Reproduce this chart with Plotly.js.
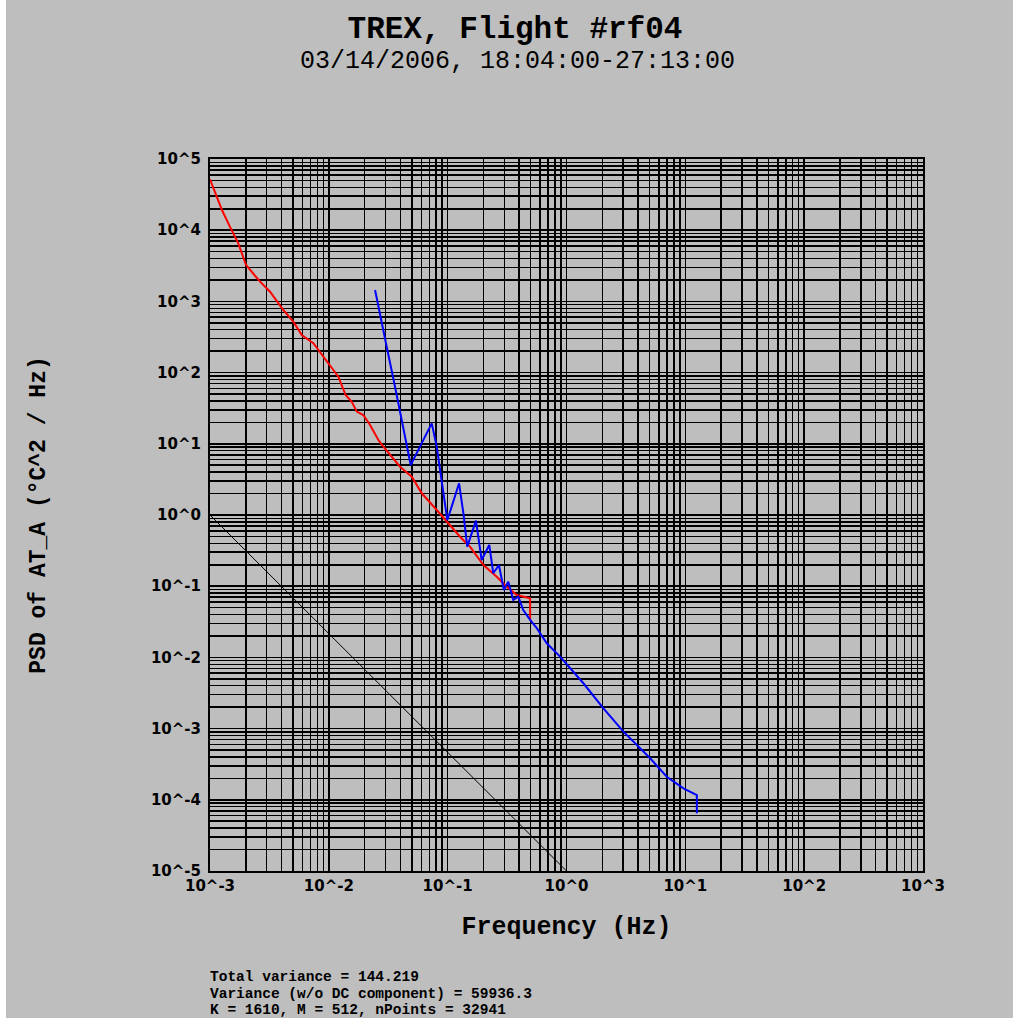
<!DOCTYPE html>
<html>
<head>
<meta charset="utf-8">
<script src="https://cdn.plot.ly/plotly-3.0.1.min.js"></script>
<style>
html,body{margin:0;padding:0;background:#ffffff;}
#plot{position:absolute;left:6px;top:0;width:1007px;height:1018px;}
</style>
</head>
<body>
<div id="plot"></div>
<script>
// ---- data ----
const redFreq = [0.001, 0.00126, 0.00147, 0.00173, 0.00201, 0.00264, 0.00320, 0.00414, 0.00502, 0.00592,
  0.00741, 0.00817, 0.01023, 0.01202, 0.01384, 0.01560, 0.01718, 0.01950, 0.02223, 0.02612,
  0.02877, 0.03972, 0.04989, 0.06053, 0.08091, 0.09817, 0.1271, 0.1542, 0.2000, 0.2588,
  0.3141, 0.3819, 0.4943, 0.4943];
const redPSD = [51880, 19230, 11220, 6546, 3243, 1892, 1368, 756.8, 518.8, 337.3,
  258.2, 207.5, 127.9, 87.70, 48.42, 38.99, 28.31, 25.35, 18.37, 11.30,
  9.12, 4.764, 3.451, 2.018, 1.175, 0.805, 0.4955, 0.3589, 0.1986, 0.1358,
  0.0984, 0.0752, 0.0676, 0.0337];

const blueFreq = [0.02449, 0.02698, 0.03069, 0.03606, 0.04102, 0.04519, 0.04887, 0.05848, 0.07345, 0.08091,
  0.08913, 0.09931, 0.1081, 0.1247, 0.1355, 0.1462, 0.1730, 0.1932, 0.2239, 0.2421,
  0.2698, 0.2972, 0.3236, 0.3565, 0.3926, 0.4325, 0.4943, 0.5623, 0.6823, 0.8831,
  1.387, 2.046, 3.013, 5.058, 6.982, 9.638, 12.50, 12.50];
const bluePSD = [1445, 680.8, 231.2, 63.39, 21.58, 9.12, 5.035, 9.12, 19.36, 9.12,
  2.786, 0.851, 1.309, 2.786, 1.067, 0.359, 0.832, 0.2333, 0.3793, 0.1517,
  0.1986, 0.0885, 0.1159, 0.0640, 0.0713, 0.0463, 0.0337, 0.0257, 0.01581, 0.01026,
  0.004335, 0.001928, 0.000906, 0.000383, 0.000211, 0.000145, 0.0001167, 0.0000646];

const refFreq = [0.001, 1];
const refPSD = [1, 0.00001];

const xDecades = [-3, -2, -1, 0, 1, 2, 3];
const xTickLabels = ['10^-3', '10^-2', '10^-1', '10^0', '10^1', '10^2', '10^3'];
const yDecades = [-5, -4, -3, -2, -1, 0, 1, 2, 3, 4, 5];
const yTickLabels = ['10^-5', '10^-4', '10^-3', '10^-2', '10^-1', '10^0', '10^1', '10^2', '10^3', '10^4', '10^5'];

const titleText = 'TREX, Flight #rf04';
const subtitleText = '03/14/2006, 18:04:00-27:13:00';
const xTitle = 'Frequency (Hz)';
const yTitle = 'PSD of AT_A (°C^2 / Hz)';
const footLines = ['Total variance = 144.219',
  'Variance (w/o DC component) = 59936.3',
  'K = 1610, M = 512, nPoints = 32941'];

// grid positions at every 1..9 multiple within each decade
function gridTicks(decades, labels) {
  const vals = [], text = [];
  for (let i = 0; i < decades.length; i++) {
    const base = Math.pow(10, decades[i]);
    if (i === decades.length - 1) { vals.push(base); text.push(labels[i]); break; }
    for (let m = 1; m <= 9; m++) {
      vals.push(m * base);
      text.push(m === 1 ? labels[i] : '');
    }
  }
  return {vals, text};
}
const xg = gridTicks(xDecades, xTickLabels);
const yg = gridTicks(yDecades, yTickLabels);

const tickFont = {family: 'DejaVu Sans', size: 15, color: '#000', weight: 'bold'};
const monoBold = 'Liberation Mono';
const footFont = {family: monoBold, size: 14.5, color: '#000'};
const footY = [977, 994, 1010];

const traces = [
  {x: refFreq, y: refPSD, type: 'scatter', mode: 'lines', line: {color: '#000000', width: 1}, hoverinfo: 'skip'},
  {x: redFreq, y: redPSD, type: 'scatter', mode: 'lines', line: {color: '#ff0000', width: 2}},
  {x: blueFreq, y: bluePSD, type: 'scatter', mode: 'lines', line: {color: '#0000ff', width: 2}}
];

const annotations = [
  {text: subtitleText, xref: 'paper', yref: 'paper', x: (511 - 204) / 713, y: (871 - 61) / 712,
    xanchor: 'center', yanchor: 'middle', showarrow: false,
    font: {family: monoBold, size: 25, color: '#000'}}
];
footLines.forEach((t, i) => {
  annotations.push({text: '<b>' + t + '</b>', xref: 'paper', yref: 'paper',
    x: (202 - 204) / 713, y: (871 - footY[i]) / 712,
    xanchor: 'left', yanchor: 'middle', showarrow: false, font: footFont});
});

const layout = {
  width: 1007, height: 1018,
  paper_bgcolor: '#bebebe', plot_bgcolor: '#bebebe',
  showlegend: false,
  margin: {l: 204, r: 90, t: 159, b: 147, pad: 0},
  title: {
    text: '<b>' + titleText + '</b>',
    font: {family: monoBold, size: 31, color: '#000'},
    x: 509 / 1007, xanchor: 'center', xref: 'container',
    y: 1 - 27 / 1018, yanchor: 'middle', yref: 'container'
  },
  xaxis: {
    type: 'log', range: [-3, 3],
    tickmode: 'array', tickvals: xg.vals, ticktext: xg.text,
    showgrid: true, gridcolor: '#000000', gridwidth: 1.5,
    showline: true, linecolor: '#000000', linewidth: 2, mirror: true,
    ticks: '', tickfont: tickFont, zeroline: false,
    automargin: false,
    title: {text: '<b>' + xTitle + '</b>', font: {family: monoBold, size: 25, color: '#000'}, standoff: 22}
  },
  yaxis: {
    type: 'log', range: [-5, 5],
    tickmode: 'array', tickvals: yg.vals, ticktext: yg.text,
    showgrid: true, gridcolor: '#000000', gridwidth: 1.5,
    showline: true, linecolor: '#000000', linewidth: 2, mirror: true,
    ticks: '', tickfont: tickFont, zeroline: false,
    ticklabelstandoff: 4,
    automargin: false,
    title: {text: '<b>' + yTitle + '</b>', font: {family: monoBold, size: 23, color: '#000'}, standoff: 99}
  },
  annotations: annotations
};

Plotly.newPlot('plot', traces, layout, {staticPlot: true, displayModeBar: false});
</script>
</body>
</html>
